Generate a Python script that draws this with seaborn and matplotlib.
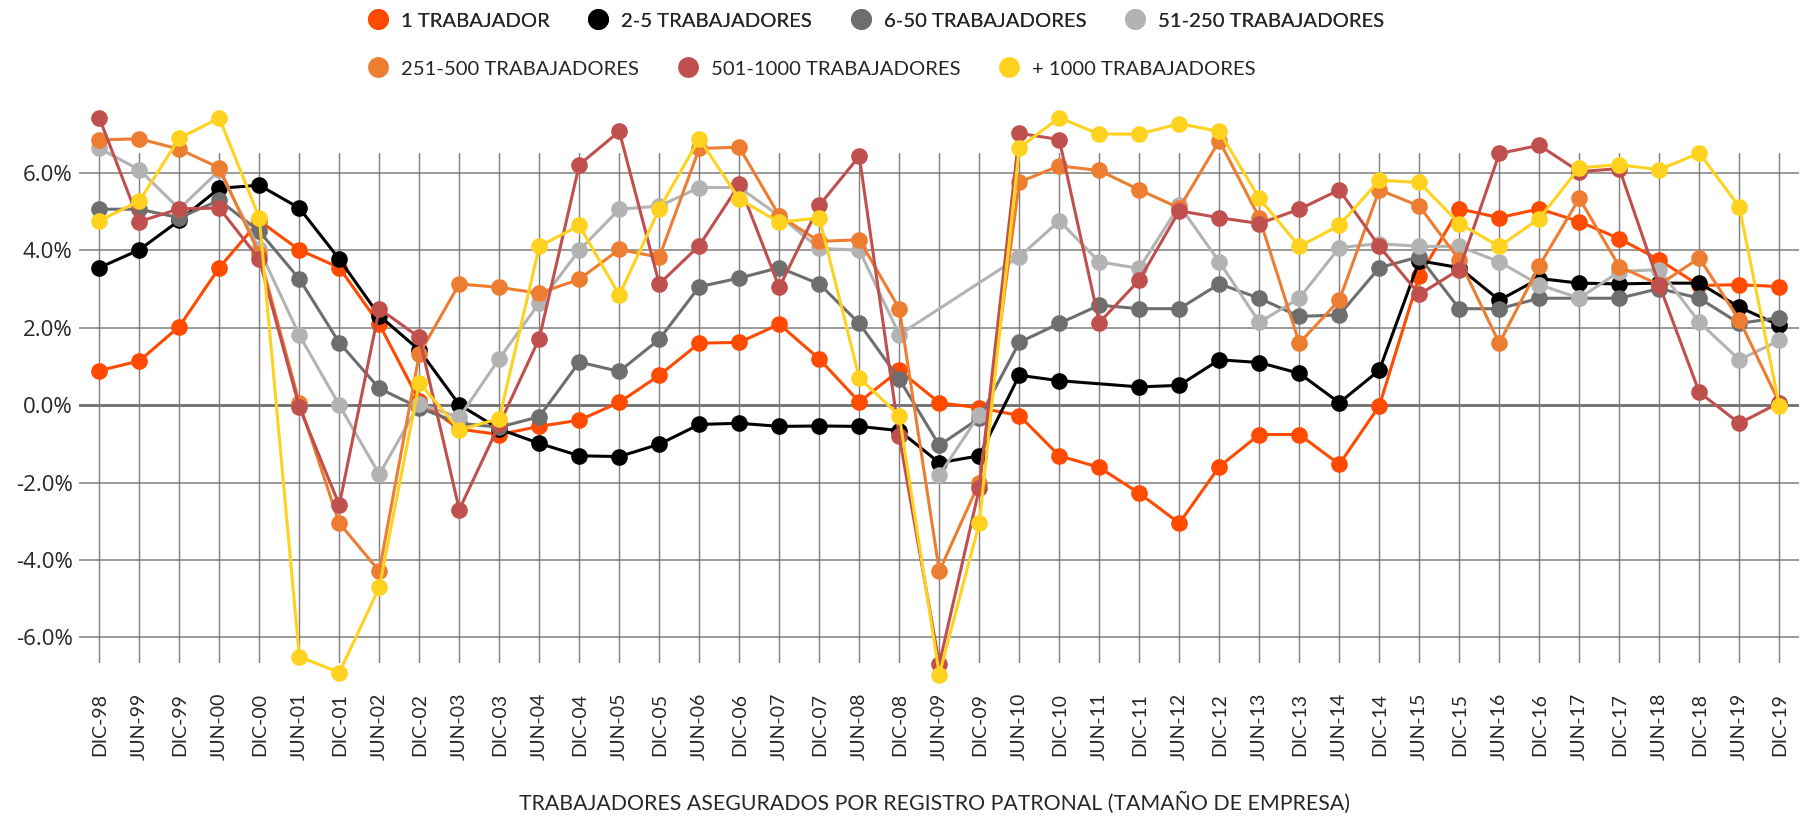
import numpy as np
import pandas as pd
import seaborn as sns
import matplotlib.pyplot as plt
from matplotlib import font_manager as fm
from matplotlib.lines import Line2D
from matplotlib.ticker import FuncFormatter, FixedLocator

sns.set_style("white")


def existe(f):
    try:
        fm.findfont(fm.FontProperties(family=f), fallback_to_default=False)
        return True
    except ValueError:
        return False


angosta = next((f for f in ["Liberation Sans Narrow", "DejaVu Sans Condensed", "Lato"] if existe(f)),
               "DejaVu Sans")
plt.rcParams['font.family'] = [angosta, 'DejaVu Sans']

periodos = ["DIC-98", "JUN-99", "DIC-99", "JUN-00", "DIC-00", "JUN-01", "DIC-01", "JUN-02",
            "DIC-02", "JUN-03", "DIC-03", "JUN-04", "DIC-04", "JUN-05", "DIC-05", "JUN-06",
            "DIC-06", "JUN-07", "DIC-07", "JUN-08", "DIC-08", "JUN-09", "DIC-09", "JUN-10",
            "DIC-10", "JUN-11", "DIC-11", "JUN-12", "DIC-12", "JUN-13", "DIC-13", "JUN-14",
            "DIC-14", "JUN-15", "DIC-15", "JUN-16", "DIC-16", "JUN-17", "DIC-17", "JUN-18",
            "DIC-18", "JUN-19", "DIC-19"]

t_1 = [0.89, 1.14, 2.03, 3.55, 4.76, 4.01, 3.55, 2.09, 0.11, -0.62, -0.76, -0.55, -0.39,
       0.07, 0.77, 1.60, 1.62, 2.09, 1.19, 0.08, 0.90, 0.06, -0.07, -0.27, -1.31, -1.61,
       -2.28, -3.05, -1.59, -0.76, -0.76, -1.53, -0.02, 3.33, 5.07, 4.84, 5.07, 4.74, 4.30,
       3.75, 3.09, 3.11, 3.06]
t_2_5 = [3.55, 4.01, 4.77, 5.60, 5.68, 5.09, 3.77, 2.31, 1.42, 0.01, -0.62, -0.99, -1.31,
         -1.33, -1.01, -0.50, -0.47, -0.55, -0.54, -0.55, -0.66, -1.49, -1.31, 0.77, 0.63,
         np.nan, 0.47, 0.51, 1.17, 1.10, 0.82, 0.06, 0.90, 3.73, 3.55, 2.71, 3.27, 3.15,
         3.13, 3.15, 3.15, 2.53, 2.06]
t_6_50 = [5.06, 5.06, 4.84, 5.29, 4.49, 3.26, 1.61, 0.43, -0.07, -0.47, -0.57, -0.30, 1.11,
          0.87, 1.70, 3.06, 3.28, 3.55, 3.13, 2.11, 0.67, -1.04, -0.34, 1.62, 2.11, 2.58,
          2.49, 2.49, 3.13, 2.76, 2.29, 2.33, 3.55, 3.83, 2.49, 2.49, 2.76, 2.76, 2.76, 3.01,
          2.76, 2.11, 2.26]
t_51_250 = [6.63, 6.08, 5.07, 6.06, 4.02, 1.81, 0.00, -1.79, 0.03, -0.32, 1.20, 2.64, 4.00,
            5.06, 5.14, 5.62, 5.62, 4.89, 4.05, 4.00, 1.82, -1.81, -0.25, 3.83, 4.76, 3.70,
            3.53, 5.16, 3.70, 2.14, 2.76, 4.07, 4.17, 4.10, 4.10, 3.70, 3.11, 2.76, 3.45,
            3.50, 2.14, 1.17, 1.67]
t_251_500 = [6.85, 6.88, 6.61, 6.13, 3.90, 0.06, -3.05, -4.29, 1.32, 3.13, 3.04, 2.89, 3.25,
             4.02, 3.82, 6.63, 6.66, 4.89, 4.23, 4.27, 2.49, -4.29, -2.00, 5.76, 6.18, 6.06,
             5.56, 5.09, 6.83, 4.84, 1.60, 2.71, 5.56, 5.14, 3.75, 1.60, 3.60, 5.34, 3.58,
             3.11, 3.80, 2.20, 0.06]
t_501_1000 = [7.42, 4.74, 5.07, 5.09, 3.77, -0.05, -2.58, 2.49, 1.75, -2.70, -0.50, 1.72,
              6.21, 7.07, 3.13, 4.12, 5.70, 3.04, 5.16, 6.43, -0.81, -6.69, -2.15, 7.02, 6.86,
              2.13, 3.23, 5.02, 4.84, 4.69, 5.06, 5.56, 4.10, 2.86, 3.50, 6.50, 6.71, 6.03,
              6.11, 3.10, 0.33, -0.47, 0.06]
t_1000 = [4.76, 5.27, 6.89, 7.42, 4.84, -6.50, -6.91, -4.71, 0.58, -0.64, -0.35, 4.10, 4.64,
          2.84, 5.07, 6.88, 5.32, 4.72, 4.84, 0.70, -0.27, -6.96, -3.05, 6.65, 7.42, 7.00,
          7.00, 7.27, 7.07, 5.34, 4.10, 4.64, 5.81, 5.75, 4.69, 4.10, 4.82, 6.13, 6.21, 6.08,
          6.51, 5.12, -0.02]

# points of 51-250 that the original line does not join (JUN-09, DIC-09)
sueltos_51_250 = [21, 22]

series = ["1 TRABAJADOR", "2-5 TRABAJADORES", "6-50 TRABAJADORES", "51-250 TRABAJADORES",
          "251-500 TRABAJADORES", "501-1000 TRABAJADORES", "+ 1000 TRABAJADORES"]
valores = [t_1, t_2_5, t_6_50, t_51_250, t_251_500, t_501_1000, t_1000]
colores = ["#FF4A00", "#000000", "#6E6E6E", "#B3B3B3", "#ED7D31", "#C0504D", "#FFD21F"]
paleta = dict(zip(series, colores))

rows = []
for s, vals in zip(series, valores):
    for i, v in enumerate(vals):
        if s == series[3] and i in sueltos_51_250:
            continue
        rows.append({"pos": i, "valor": v, "serie": s})
df = pd.DataFrame(rows)
seg = pd.DataFrame({"pos": sueltos_51_250,
                    "valor": [t_51_250[i] for i in sueltos_51_250]})

fig = plt.figure(figsize=(18.06, 8.17), dpi=100)
ax = fig.add_axes([0.0439, 0.1881, 0.9524, 0.6242])

gris = "#7F7F7F"
for y in [-6, -4, -2, 2, 4, 6]:
    ax.axhline(y, color=gris, lw=1.1, zorder=0)
ax.axhline(0, color="#6E6E6E", lw=2.0, zorder=0)
for i in range(len(periodos)):
    ax.axvline(i, color=gris, lw=1.0, zorder=0)

estilo = dict(marker="o", markersize=12, markeredgewidth=0, linewidth=2.2, clip_on=False)
for s in series:
    sub = df[df["serie"] == s]
    sns.lineplot(data=sub, x="pos", y="valor", color=paleta[s], ax=ax, legend=False, **estilo)
    if s == series[3]:
        sns.lineplot(data=seg, x="pos", y="valor", color=paleta[s], ax=ax, legend=False, **estilo)

ax.set_xlim(-0.5, len(periodos) - 0.5)
ax.set_ylim(-6.671, 6.503)
ax.set_xlabel("")
ax.set_ylabel("")
for sp in ax.spines.values():
    sp.set_visible(False)
ax.spines["bottom"].set_position(("outward", 13.7))

ax.set_xticks(range(len(periodos)))
ax.set_xticklabels(periodos, rotation=90, fontsize=14, va="top", ha="center")
ax.xaxis.set_minor_locator(FixedLocator(np.arange(0.5, len(periodos) - 1, 1.0)))
ax.tick_params(axis="x", which="major", length=0, pad=7.5)
ax.tick_params(axis="x", which="minor", length=63, width=1.0, color=gris, direction="out")

ax.set_yticks([-6, -4, -2, 0, 2, 4, 6])
ax.yaxis.set_major_formatter(FuncFormatter(lambda v, p: f"{v:.1f}%"))
ax.tick_params(axis="y", length=0, pad=4.8)
for lab in ax.get_yticklabels():
    lab.set_fontfamily(["Open Sans", "DejaVu Sans"])
    lab.set_fontsize(16)

fig.text(0.5175, 0.0171, "TRABAJADORES ASEGURADOS POR REGISTRO PATRONAL (TAMAÑO DE EMPRESA)",
         ha="center", va="center", fontsize=15.3)

def handle(c):
    return Line2D([], [], marker="o", linestyle="none", markersize=15, color=c, markeredgewidth=0)

ley = dict(loc="center left", frameon=False, borderpad=0, borderaxespad=0, handlelength=1.0,
           handletextpad=0.63, columnspacing=1.9, fontsize=14.6)
l1 = fig.legend([handle(c) for c in colores[:4]], series[:4], ncol=4,
                bbox_to_anchor=(368 / 1806, 1 - 21 / 817), **ley)
fig.add_artist(l1)
fig.legend([handle(c) for c in colores[4:]], series[4:], ncol=3,
           bbox_to_anchor=(368 / 1806, 1 - 69 / 817), **ley)

plt.savefig("out.png", dpi=100)
